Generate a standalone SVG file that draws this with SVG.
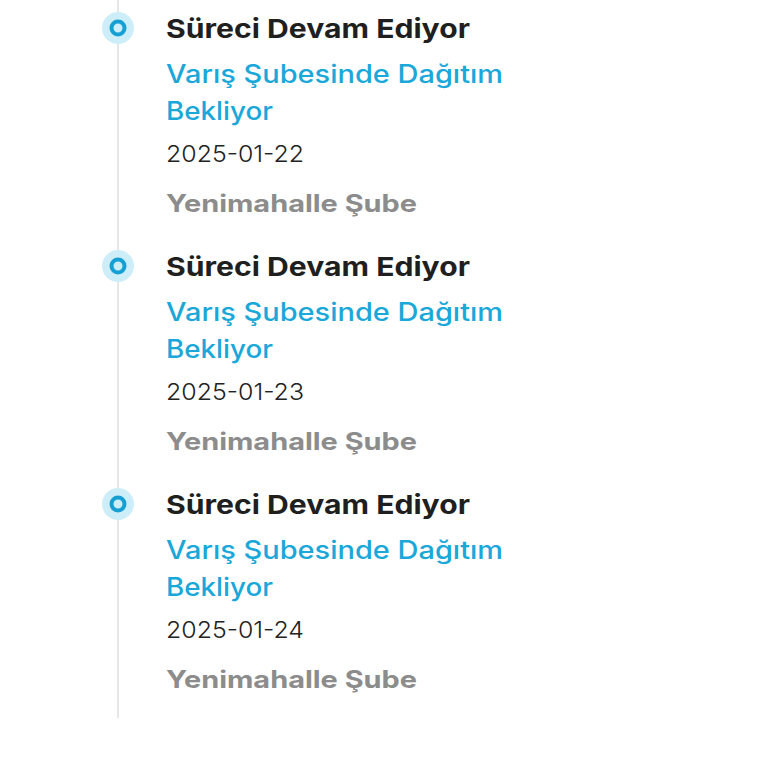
<svg xmlns="http://www.w3.org/2000/svg" width="768" height="768" viewBox="0 0 768 768">
<style>
text{font-family:Inter,"Open Sans","Liberation Sans",sans-serif}
.t{font-size:26px;font-weight:700;fill:#1f1f1f}
.s{font-size:25px;font-weight:500;fill:#1aa7d9}
.d{font-size:23px;font-weight:300;fill:#222}
.g{font-size:24px;font-weight:700;fill:#8c8c8c}
</style>
<defs>
<g id="dot"><circle r="16" fill="#cdeef8"/><circle r="6.5" fill="none" stroke="#169fd3" stroke-width="4"/></g>
</defs>
<g id="connectors"><line x1="118" y1="0" x2="118" y2="718" stroke="#e6e6e6" stroke-width="2"/></g>
<g id="item1">
<use href="#dot" x="118" y="28"/>
<text class="t" x="166" y="38" textLength="304" lengthAdjust="spacingAndGlyphs">Süreci Devam Ediyor</text>
<text class="s" x="166" y="83" textLength="337" lengthAdjust="spacingAndGlyphs">Varış Şubesinde Dağıtım</text>
<text class="s" x="166" y="120" textLength="107" lengthAdjust="spacingAndGlyphs">Bekliyor</text>
<text class="d" x="166" y="162" textLength="138" lengthAdjust="spacingAndGlyphs">2025-01-22</text>
<text class="g" x="166" y="212" textLength="251" lengthAdjust="spacingAndGlyphs">Yenimahalle Şube</text>
</g>
<g id="item2">
<use href="#dot" x="118" y="266"/>
<text class="t" x="166" y="276" textLength="304" lengthAdjust="spacingAndGlyphs">Süreci Devam Ediyor</text>
<text class="s" x="166" y="321" textLength="337" lengthAdjust="spacingAndGlyphs">Varış Şubesinde Dağıtım</text>
<text class="s" x="166" y="358" textLength="107" lengthAdjust="spacingAndGlyphs">Bekliyor</text>
<text class="d" x="166" y="400" textLength="138" lengthAdjust="spacingAndGlyphs">2025-01-23</text>
<text class="g" x="166" y="450" textLength="251" lengthAdjust="spacingAndGlyphs">Yenimahalle Şube</text>
</g>
<g id="item3">
<use href="#dot" x="118" y="504"/>
<text class="t" x="166" y="514" textLength="304" lengthAdjust="spacingAndGlyphs">Süreci Devam Ediyor</text>
<text class="s" x="166" y="559" textLength="337" lengthAdjust="spacingAndGlyphs">Varış Şubesinde Dağıtım</text>
<text class="s" x="166" y="596" textLength="107" lengthAdjust="spacingAndGlyphs">Bekliyor</text>
<text class="d" x="166" y="638" textLength="138" lengthAdjust="spacingAndGlyphs">2025-01-24</text>
<text class="g" x="166" y="688" textLength="251" lengthAdjust="spacingAndGlyphs">Yenimahalle Şube</text>
</g>
</svg>
